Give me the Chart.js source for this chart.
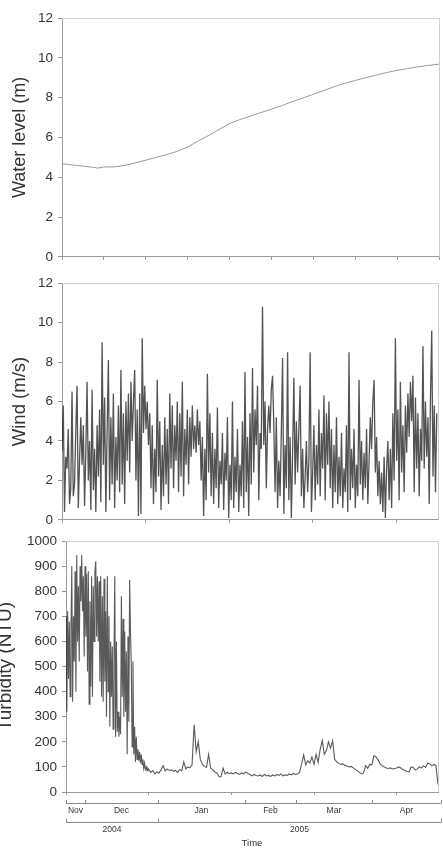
<!DOCTYPE html>
<html>
<head>
<meta charset="utf-8">
<script src="https://cdn.jsdelivr.net/npm/chart.js@4.4.1/dist/chart.umd.min.js"></script>
<style>
  body { margin: 0; background: #fff; width: 443px; height: 861px; overflow: hidden; position: relative; }
  canvas { position: absolute; }
</style>
</head>
<body>
<canvas id="levelChart" width="443" height="270" style="left:0;top:0"></canvas>
<canvas id="windChart" width="443" height="263" style="left:0;top:270px"></canvas>
<canvas id="turbChart" width="453" height="333" style="left:-10px;top:528px"></canvas>
<script>
// days since start of record (late Nov 2004 -> end Apr 2005)
const waterDays = [0, 5, 10, 15, 17, 20, 25, 30, 35, 40, 45, 50, 55, 60, 65, 70, 75, 80, 85, 90,
  95, 100, 105, 110, 115, 120, 125, 130, 135, 140, 145, 150, 155, 160, 165, 170, 175, 180];
const waterLevel = [4.68, 4.62, 4.56, 4.5, 4.46, 4.52, 4.52, 4.6, 4.72, 4.86, 5.0, 5.14, 5.3, 5.52, 5.82, 6.1, 6.4, 6.7, 6.9, 7.07,
  7.25, 7.42, 7.6, 7.8, 7.98, 8.17, 8.36, 8.55, 8.72, 8.86, 9.0, 9.13, 9.26, 9.37, 9.46, 9.55, 9.62, 9.68];

const windStep = 0.6;
const windSpeed = [
  3.5, 5.8, 0.4, 3.2, 2.6, 4.6, 0.8, 1.6, 6.5, 1.2, 1.8, 4.5, 6.8, 0.6, 3.0, 5.2, 2.8, 4.8, 0.7, 3.4,
  7.0, 2.0, 4.0, 0.5, 6.6, 1.5, 3.6, 0.4, 4.8, 2.2, 5.6, 0.9, 9.0, 2.8, 6.2, 0.4, 4.5, 8.1, 1.0, 5.2,
  1.8, 6.4, 0.6, 4.2, 2.0, 5.8, 1.4, 7.6, 1.8, 5.4, 0.8, 6.0, 3.0, 6.4, 2.4, 7.0, 4.0, 6.0, 7.6, 2.0,
  5.6, 0.2, 6.4, 0.3, 9.2, 4.4, 6.8, 4.6, 6.0, 3.8, 5.4, 1.6, 4.8, 0.8, 3.6, 1.4, 7.1, 2.2, 5.0, 0.5,
  3.8, 1.2, 5.2, 1.8, 4.6, 0.8, 6.4, 2.6, 5.8, 1.6, 4.8, 3.0, 6.0, 1.4, 5.4, 2.2, 7.0, 1.2, 4.6, 2.8,
  5.6, 1.8, 5.2, 3.2, 5.8, 3.6, 4.8, 3.4, 5.6, 3.8, 5.0, 2.0, 4.2, 0.2, 3.6, 1.0, 7.4, 2.4, 5.4, 1.2,
  4.4, 0.8, 3.6, 1.6, 5.7, 0.6, 3.0, 1.8, 4.4, 0.5, 3.4, 2.0, 5.2, 0.1, 2.8, 1.0, 6.0, 0.6, 3.2, 1.4,
  4.6, 0.4, 2.8, 1.2, 5.0, 0.6, 7.5, 1.4, 4.2, 0.2, 5.4, 1.8, 7.7, 2.4, 5.6, 3.8, 6.8, 1.0, 4.4, 3.6,
  10.8, 3.8, 6.0, 1.6, 4.6, 5.8, 4.4, 6.6, 7.3, 4.8, 1.4, 5.2, 0.6, 3.0, 1.2, 4.4, 8.2, 0.3, 3.8, 1.6,
  8.5, 1.0, 4.2, 0.1, 3.4, 7.2, 1.8, 5.0, 2.4, 4.6, 6.8, 1.2, 3.6, 0.6, 2.2, 4.0, 1.4, 3.0, 8.5, 0.4,
  2.4, 4.8, 1.0, 3.8, 1.8, 5.6, 1.2, 4.4, 2.6, 6.3, 1.0, 5.4, 2.8, 6.0, 1.6, 4.6, 0.6, 3.8, 1.4, 5.2,
  0.8, 3.2, 1.2, 4.4, 0.6, 2.6, 1.4, 4.8, 0.4, 8.5, 1.0, 3.6, 1.6, 4.6, 0.6, 2.8, 1.2, 7.1, 1.8, 4.0,
  1.0, 3.4, 1.6, 4.6, 0.8, 3.0, 5.2, 3.6, 6.0, 7.1, 2.4, 4.2, 1.2, 3.0, 0.8, 2.4, 0.4, 3.2, 0.1, 2.6,
  4.0, 1.0, 3.6, 0.6, 5.4, 2.0, 9.2, 3.0, 5.6, 1.0, 7.0, 2.4, 4.8, 1.4, 5.8, 3.4, 6.4, 4.2, 7.0, 5.0,
  7.3, 1.4, 6.2, 2.6, 5.4, 1.2, 4.6, 3.0, 8.8, 2.6, 6.0, 3.2, 5.2, 0.8, 6.2, 9.6, 2.2, 5.8, 1.4, 5.4
];

// turbidity: dense early record, then daily values
const turbEarlyStep = 0.4;
const turbEarly = [
  700, 320, 720, 450, 680, 380, 640, 900, 360, 700, 520, 880, 400, 945, 600, 820, 520, 900, 760, 945,
  720, 860, 540, 900, 620, 870, 480, 880, 350, 760, 420, 860, 380, 820, 600, 880, 920, 620, 860, 600,
  840, 440, 860, 380, 780, 360, 850, 440, 720, 300, 860, 400, 700, 260, 600, 380, 580, 250, 520, 860,
  220, 600, 240, 320, 220, 300, 230, 780, 380, 690, 300, 640, 320, 560, 150, 620, 280, 845, 640, 500,
  180, 520, 150, 260, 120, 220, 130, 170, 125, 160, 115, 150, 110, 130, 95, 115, 90, 100, 85, 95
];
const turbLateStart = 40;
const turbLate = [
  90, 78, 85, 72, 80, 76, 88, 105, 84, 92,
  86, 88, 82, 86, 78, 90, 84, 120, 92, 100,
  96, 108, 268, 160, 200, 130, 110, 102, 98, 150,
  95, 88, 80, 76, 62, 60, 95, 72, 78, 74,
  76, 72, 78, 74, 70, 76, 72, 80, 74, 70,
  64, 70, 66, 64, 68, 62, 70, 64, 66, 62,
  68, 64, 70, 66, 72, 64, 68, 66, 72, 68,
  74, 70, 72, 78, 110, 148, 108, 125, 115, 140,
  110, 150, 118, 170, 205, 150, 165, 200, 175, 205,
  130, 120, 114, 110, 112, 106, 104, 100, 102, 96,
  90, 84, 78, 72, 76, 105, 95, 110, 108, 145,
  140, 128, 112, 104, 100, 96, 94, 96, 92, 94,
  96, 100, 96, 90, 86, 82, 80, 100, 98, 88,
  92, 100, 96, 104, 98, 115, 112, 104, 110, 106,
  30
];

const monthLabels = ["Nov", "Dec", "Jan", "Feb", "Mar", "Apr"];
const monthBounds = [0, 9.2, 44.5, 86.6, 111.3, 148, 181.5];
const yearLabels = ["2004", "2005"];
const yearBounds = [0, 44.5, 181.5];

const FONT = "'Liberation Sans', Arial, sans-serif";
Chart.defaults.font.family = FONT;
Chart.defaults.color = "#333";

// light frame on top and right of plot area
const framePlugin = {
  id: "frame",
  afterDraw(chart) {
    const { ctx, chartArea: a } = chart;
    ctx.save();
    ctx.strokeStyle = "#cfcfcf";
    ctx.lineWidth = 1;
    ctx.beginPath();
    ctx.moveTo(a.left, a.top + 0.5);
    ctx.lineTo(a.right + 0.5, a.top + 0.5);
    ctx.lineTo(a.right + 0.5, a.bottom);
    ctx.stroke();
    ctx.restore();
  }
};

// month / year bracket axis under the last panel
const bracketPlugin = {
  id: "brackets",
  afterDraw(chart) {
    const { ctx, chartArea: a } = chart;
    const xs = chart.scales.x;
    const row = (bounds, labels, y, size) => {
      ctx.strokeStyle = "#888";
      ctx.lineWidth = 1;
      ctx.beginPath();
      ctx.moveTo(xs.getPixelForValue(bounds[0]), y + 0.5);
      ctx.lineTo(xs.getPixelForValue(bounds[bounds.length - 1]), y + 0.5);
      bounds.forEach(b => {
        const px = Math.round(xs.getPixelForValue(b)) + 0.5;
        ctx.moveTo(px, y - 3);
        ctx.lineTo(px, y + 0.5);
      });
      ctx.stroke();
      ctx.fillStyle = "#333";
      ctx.font = size + "px " + FONT;
      ctx.textAlign = "center";
      ctx.textBaseline = "middle";
      labels.forEach((l, i) => {
        const mid = (xs.getPixelForValue(bounds[i]) + xs.getPixelForValue(bounds[i + 1])) / 2;
        ctx.fillText(l, mid, y + 8);
      });
    };
    ctx.save();
    row(monthBounds, monthLabels, a.bottom + 11, 8.5);
    row(yearBounds, yearLabels, a.bottom + 30, 8.5);
    ctx.font = "9.5px " + FONT;
    ctx.fillText("Time", (a.left + a.right) / 2, a.bottom + 51);
    ctx.restore();
  }
};

function panel(id, cfg) {
  return new Chart(document.getElementById(id), {
    type: "line",
    data: {
      datasets: [{
        data: cfg.points,
        borderColor: cfg.color,
        borderWidth: cfg.width || 1,
        pointRadius: 0,
        tension: 0
      }]
    },
    options: {
      responsive: false,
      animation: false,
      events: [],
      layout: { padding: cfg.padding },
      plugins: { legend: { display: false }, tooltip: { enabled: false } },
      scales: {
        x: {
          type: "linear",
          min: 0,
          max: 180,
          afterBuildTicks: s => { s.ticks = cfg.xTicks.map(v => ({ value: v })); },
          afterFit: s => { s.height = cfg.xHeight; },
          ticks: { display: false },
          grid: { drawOnChartArea: false, drawTicks: true, tickLength: 3, color: "#999" },
          border: { display: true, color: "#999" }
        },
        y: {
          min: 0,
          max: cfg.yMax,
          afterFit: s => { s.width = cfg.yWidth; },
          ticks: { stepSize: cfg.yStep, padding: 5, color: "#333", font: { size: 13.5 }, callback: v => String(v) },
          grid: { drawOnChartArea: false, drawTicks: true, tickLength: 4, color: "#999" },
          border: { display: true, color: "#999" },
          title: { display: true, text: cfg.title, color: "#333", font: { size: cfg.titleSize }, padding: { top: 4, bottom: 4 } }
        }
      }
    },
    plugins: cfg.plugins
  });
}

const gridTicks1 = [0, 20, 40, 60, 80, 100, 120, 140, 160, 180];
const gridTicks2 = [0, 40, 80, 120, 160];

panel("levelChart", {
  points: waterDays.map((d, i) => ({ x: d, y: waterLevel[i] })),
  color: "#9a9a9a",
  padding: { left: 5, top: 18, right: 4, bottom: 0 },
  xHeight: 10, yWidth: 57, yMax: 12, yStep: 2, xTicks: gridTicks1,
  title: "Water level (m)", titleSize: 18,
  plugins: [framePlugin]
});

panel("windChart", {
  points: windSpeed.map((v, i) => ({ x: i * windStep, y: v })),
  color: "rgba(25,25,25,0.75)", width: 1.3,
  padding: { left: 5, top: 11, right: 5, bottom: 0 },
  xHeight: 10, yWidth: 57, yMax: 12, yStep: 2, xTicks: gridTicks2,
  title: "Wind (m/s)", titleSize: 18.5,
  plugins: [framePlugin]
});

const turbPoints = turbEarly.map((v, i) => ({ x: i * turbEarlyStep, y: v }))
  .concat(turbLate.map((v, i) => ({ x: turbLateStart + i, y: v })));

panel("turbChart", {
  points: turbPoints,
  color: "rgba(35,35,35,0.75)", width: 1.1,
  padding: { left: 0, top: 12, right: 5, bottom: 0 },
  xHeight: 69, yWidth: 76, yMax: 1000, yStep: 100, xTicks: gridTicks2,
  title: "Turbidity (NTU)", titleSize: 19,
  plugins: [framePlugin, bracketPlugin]
});
</script>
</body>
</html>
